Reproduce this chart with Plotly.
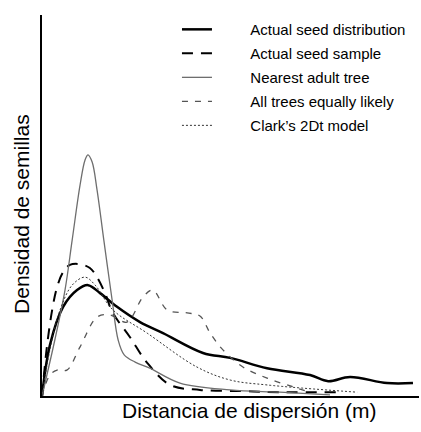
import plotly.graph_objects as go

# Data (arbitrary units: distance 0-100, density 0-100)
dist_x = [0, 2.1, 5.6, 9.3, 12.2, 15.4, 19.9, 26.0, 32.1, 42.7, 49.9, 59.7, 71.1, 75.9, 81.7, 91.5, 98.4]
dist_y = [0, 13.4, 23.4, 27.8, 29.1, 27.0, 23.4, 19.4, 16.5, 11.3, 10.0, 7.3, 5.5, 3.9, 5.0, 3.4, 3.4]

sample_x = [0, 1.3, 2.7, 4.0, 5.6, 7.4, 10.1, 12.7, 14.6, 16.7, 18.8, 23.3, 27.9, 34.0, 41.9, 52.5, 63.1, 78.5]
sample_y = [0, 12.9, 22.6, 28.6, 32.5, 34.4, 34.6, 33.6, 31.2, 27.0, 21.8, 15.5, 8.7, 2.9, 1.6, 1.3, 1.0, 1.0]

nearest_x = [0, 3.4, 6.1, 8.0, 10.1, 11.4, 12.2, 13.3, 14.6, 16.4, 18.6, 20.2, 21.8, 24.7, 28.6, 36.6, 49.9, 63.1, 76.4]
nearest_y = [0, 14.7, 27.8, 40.9, 55.4, 61.9, 63.3, 61.4, 54.1, 40.9, 25.2, 14.7, 10.8, 8.9, 7.3, 3.4, 1.6, 1.0, 0.3]

alltrees_x = [0, 2.1, 4.0, 6.6, 10.1, 14.6, 18.0, 22.5, 26.8, 29.4, 33.2, 38.5, 41.9, 44.6, 48.0, 53.3, 59.7, 66.6, 71.1]
alltrees_y = [0, 5.5, 6.8, 6.8, 12.9, 20.7, 21.3, 19.4, 26.0, 27.8, 22.6, 21.8, 21.0, 16.5, 12.1, 7.6, 4.7, 2.4, 1.0]

clark_x = [0, 2.1, 4.8, 8.0, 11.4, 14.1, 18.8, 27.9, 41.1, 49.9, 59.7, 83.6]
clark_y = [0, 12.1, 22.6, 29.1, 31.2, 29.1, 22.6, 16.5, 7.6, 4.2, 2.9, 1.0]

names = ["Actual seed distribution", "Actual seed sample", "Nearest adult tree",
         "All trees equally likely", "Clark\u2019s 2Dt model"]
x_title = "Distancia de dispersión (m)"
y_title = "Densidad de semillas"

FONT = "Liberation Sans, Arial, sans-serif"
PAD = "\u00a0" * 8

styles = [
    dict(color="black", width=2.5),
    dict(color="black", width=2, dash="11px,8px"),
    dict(color="#6e6e6e", width=1.3),
    dict(color="#555555", width=1.3, dash="6px,7px"),
    dict(color="#333333", width=1, dash="2px,2px"),
]
series = [(dist_x, dist_y), (sample_x, sample_y), (nearest_x, nearest_y),
          (alltrees_x, alltrees_y), (clark_x, clark_y)]

fig = go.Figure()
for i, ((xs, ys), st, nm) in enumerate(zip(series, styles, names)):
    fig.add_trace(go.Scatter(x=xs, y=ys, mode="lines", name=PAD + nm,
                             legendgroup=f"g{i}",
                             line=dict(shape="spline", **st)))

fig.update_layout(
    width=421, height=432,
    margin=dict(l=42, r=2, t=15, b=36),
    paper_bgcolor="white", plot_bgcolor="white",
    font=dict(family=FONT, size=15, color="black"),
    showlegend=True,
    legend=dict(x=0.358, y=1.005, xanchor="left", yanchor="top",
                bgcolor="rgba(0,0,0,0)", font=dict(size=15, family=FONT),
                itemwidth=30, tracegroupgap=1.5, traceorder="grouped"),
    xaxis=dict(range=[0, 100], showgrid=False, zeroline=False, showticklabels=False,
               ticks="", showline=True, linecolor="black", linewidth=2),
    yaxis=dict(range=[0, 100], showgrid=False, zeroline=False, showticklabels=False,
               ticks="", showline=True, linecolor="black", linewidth=2),
    annotations=[
        dict(text=x_title, xref="paper", yref="paper", x=0.549, y=-0.037,
             xanchor="center", yanchor="middle", showarrow=False,
             font=dict(size=21, family=FONT)),
        dict(text=y_title, xref="paper", yref="paper", x=-0.053, y=0.478,
             xanchor="center", yanchor="middle", textangle=-90, showarrow=False,
             font=dict(size=21, family=FONT)),
    ],
)

fig.write_html("out.html")
